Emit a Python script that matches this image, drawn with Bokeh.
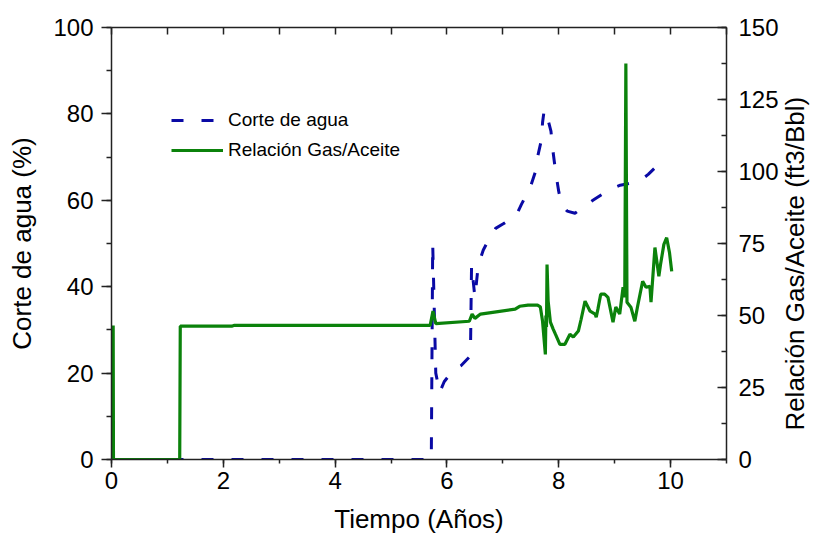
import math
from bokeh.plotting import figure
from bokeh.models import (Range1d, LinearAxis, SingleIntervalTicker, FixedTicker, Legend,
                          LegendItem)
from bokeh.embed import file_html
from bokeh.resources import INLINE

# ---- data ----
wc_x = [0.0, 5.72, 5.745, 5.80, 5.87, 5.95, 6.10, 6.25, 6.42, 6.44, 6.50, 6.56, 6.65,
        6.75, 6.87, 7.00, 7.24, 7.33, 7.49, 7.58, 7.62, 7.69, 7.71, 7.74, 7.78, 7.86,
        7.90, 7.95, 8.00, 8.05, 8.15, 8.29, 8.45, 8.61, 8.79, 9.00, 9.10, 9.29, 9.45,
        9.60, 9.72, 9.82]
wc_y = [0.0, 0.0, 50.0, 20.0, 15.5, 18.0, 20.5, 21.7, 24.0, 45.0, 37.5, 45.0, 48.5,
        51.0, 53.5, 54.5, 56.5, 59.0, 63.0, 66.5, 70.0, 74.0, 78.0, 81.0, 80.0, 76.0,
        71.0, 66.0, 62.0, 59.0, 57.5, 57.0, 58.5, 60.0, 61.5, 63.0, 63.5, 64.0, 64.5,
        66.0, 67.5, 69.0]

gor_x = [0.03, 0.035, 1.22, 1.23, 2.15, 2.20, 5.70, 5.75, 5.80, 6.40, 6.45, 6.50, 6.60,
         6.85, 7.22, 7.30, 7.45, 7.62, 7.67, 7.71, 7.76, 7.77, 7.78, 7.79, 7.81, 7.85,
         7.90, 7.94, 8.02, 8.11, 8.20, 8.26, 8.35, 8.40, 8.47, 8.56, 8.65, 8.67, 8.70,
         8.75, 8.82, 8.88, 8.97, 9.02, 9.09, 9.15, 9.18, 9.20, 9.22, 9.29, 9.36, 9.41,
         9.50, 9.56, 9.63, 9.65, 9.72, 9.79, 9.82, 9.88, 9.93, 9.98, 10.02]
gor_y = [46.5, 0.0, 0.0, 46.3, 46.3, 46.6, 46.6, 51.5, 47.2, 48.0, 50.5, 49.0, 50.5,
         51.2, 52.2, 53.2, 53.6, 53.6, 53.0, 48.0, 36.5, 50.0, 46.0, 67.7, 55.0, 47.7,
         45.3, 43.5, 40.0, 40.0, 43.5, 42.5, 44.6, 48.7, 55.0, 51.5, 50.5, 49.4, 52.2,
         57.4, 57.4, 56.3, 47.7, 52.9, 50.5, 59.8, 56.3, 137.5, 54.6, 52.9, 48.0, 53.2,
         61.9, 59.8, 60.1, 54.6, 73.6, 63.6, 67.7, 74.7, 77.0, 71.9, 65.3]

x_ticks_interval = 2
top_tick_positions = [0, 1, 2, 3, 4, 5, 6, 7, 8, 9, 10, 11]
wc_label = "Corte de agua"
gor_label = "Relación Gas/Aceite"
right_title = "Relación Gas/Aceite (ft3/Bbl)"

FONT = "Liberation Sans"
BLUE = "#0a0aa5"
GREEN = "#0b820b"
AX = "#222222"

p = figure(width=827, height=536, x_range=Range1d(0, 11), y_range=Range1d(0, 100),
           output_backend="svg", toolbar_location=None,
           min_border_left=111, min_border_right=98, min_border_top=27, min_border_bottom=75)
p.extra_y_ranges = {"gor": Range1d(0, 150)}
p.xgrid.visible = False
p.ygrid.visible = False
p.outline_line_color = None
p.background_fill_color = "white"
p.border_fill_color = "white"

r1 = p.line(wc_x, wc_y, line_color=BLUE, line_width=3, line_dash="12 18")
r2 = p.line(gor_x, gor_y, line_color=GREEN, line_width=3.2, y_range_name="gor")


def style(ax):
    ax.axis_line_color = AX
    ax.axis_line_width = 1.5
    ax.major_tick_line_color = AX
    ax.major_tick_line_width = 1.5
    ax.minor_tick_line_color = AX
    ax.minor_tick_line_width = 1.5
    ax.major_label_text_font = FONT
    ax.major_label_text_font_size = "24px"
    ax.major_label_text_color = "black"
    ax.axis_label_text_font = FONT
    ax.axis_label_text_font_size = "26px"
    ax.axis_label_text_font_style = "normal"
    ax.axis_label_text_color = "black"


# bottom
xa = p.xaxis[0]
xa.ticker = SingleIntervalTicker(interval=x_ticks_interval, num_minor_ticks=2)
style(xa)
xa.major_tick_in = 0
xa.major_tick_out = 8
xa.minor_tick_in = 0
xa.minor_tick_out = 4
xa.major_label_standoff = 4
xa.axis_label = "Tiempo (Años)"
xa.axis_label_standoff = 12

# left
ya = p.yaxis[0]
ya.ticker = SingleIntervalTicker(interval=20, num_minor_ticks=2)
style(ya)
ya.major_tick_in = 0
ya.major_tick_out = 10
ya.minor_tick_in = 0
ya.minor_tick_out = 5
ya.major_label_standoff = 8
ya.axis_label = "Corte de agua (%)"
ya.axis_label_standoff = 13

# right axis; its title reads bottom-to-top, anchored at the start of the axis
ra = LinearAxis(y_range_name="gor", ticker=SingleIntervalTicker(interval=25, num_minor_ticks=2))
style(ra)
ra.major_tick_in = 9
ra.major_tick_out = 0
ra.minor_tick_in = 5
ra.minor_tick_out = 0
ra.major_label_standoff = 12
ra.axis_label = "\u00a0\u00a0\u00a0\u00a0" + right_title
ra.axis_label_standoff = 13
ra.axis_label_orientation = math.pi / 2
try:
    ra.axis_label_align = "start"
except Exception:
    pass
p.add_layout(ra, "right")

# top (ticks only, no labels)
ta = LinearAxis(ticker=FixedTicker(ticks=[], minor_ticks=top_tick_positions))
style(ta)
ta.major_tick_in = 0
ta.major_tick_out = 0
ta.minor_tick_in = 7
ta.minor_tick_out = 0
p.add_layout(ta, "above")

legend = Legend(items=[LegendItem(label=wc_label, renderers=[r1]),
                       LegendItem(label=gor_label, renderers=[r2])],
                location=(60, 298))
legend.border_line_color = None
legend.background_fill_alpha = 0
legend.padding = 0
legend.margin = 0
legend.spacing = 8
legend.glyph_width = 52
legend.glyph_height = 22
legend.label_height = 22
legend.label_standoff = 5
legend.label_text_font = FONT
legend.label_text_font_size = "19px"
legend.label_text_color = "black"
p.add_layout(legend)

open("out.html", "w").write(file_html(p, INLINE))
